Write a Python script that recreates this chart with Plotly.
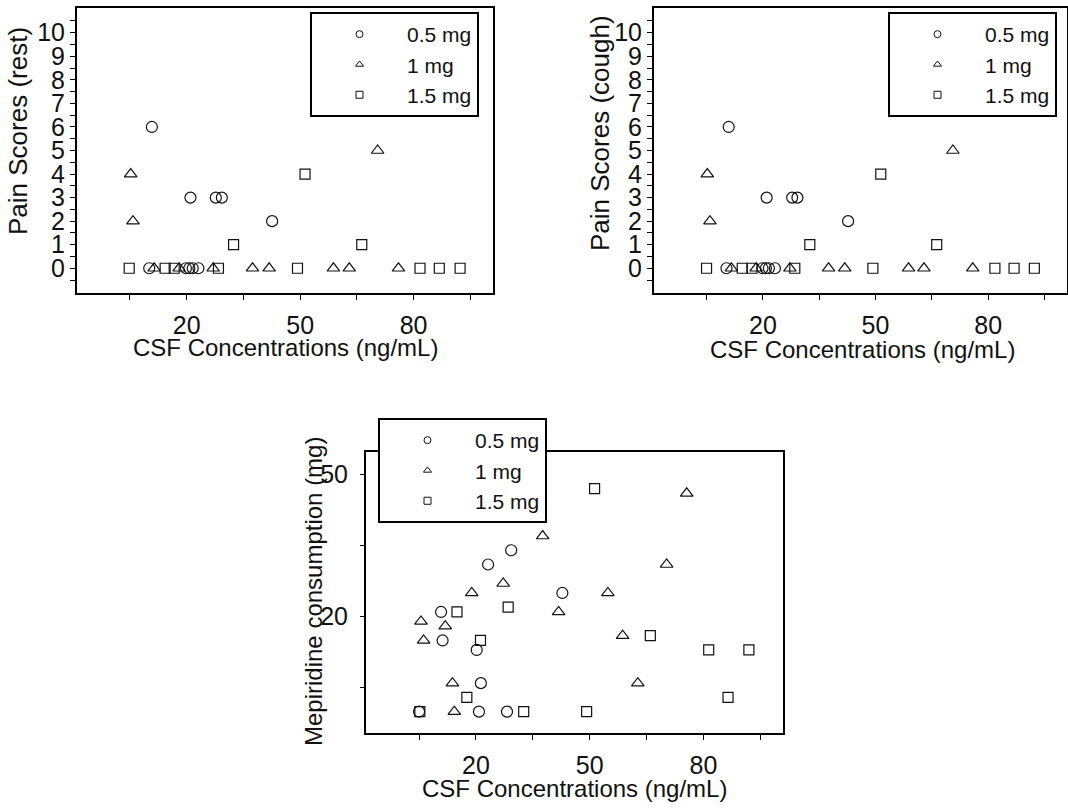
import plotly.graph_objects as go

W, H = 1068, 808
FONT = "Arial, Liberation Sans, sans-serif"
INK = "#111111"

doses = ["0.5 mg", "1 mg", "1.5 mg"]
symbols = ["circle-open", "triangle-up-open", "square-open"]
marker_sizes = [11, 11, 10]

# Pain scores at rest, by intrathecal dose (CSF concentration in ng/mL)
rest_csf_05 = [10.1, 19.8, 20.7, 21.6, 23.1, 10.8, 21.0, 27.7, 29.3, 42.6]
rest_pain_05 = [0, 0, 0, 0, 0, 6, 3, 3, 3, 2]
rest_csf_10 = [11.4, 18.0, 27.0, 37.4, 41.8, 58.8, 63.0, 76.0, 5.2, 5.8, 70.5]
rest_pain_10 = [0, 0, 0, 0, 0, 0, 0, 0, 4, 2, 5]
rest_csf_15 = [4.8, 14.3, 16.7, 28.4, 49.3, 81.7, 86.8, 92.3, 32.4, 66.3, 51.3]
rest_pain_15 = [0, 0, 0, 0, 0, 0, 0, 0, 1, 1, 4]

# Pain scores on coughing
cough_csf_05 = [10.3, 19.9, 20.8, 21.6, 23.2, 10.9, 21.0, 27.8, 29.2, 42.7]
cough_pain_05 = [0, 0, 0, 0, 0, 6, 3, 3, 3, 2]
cough_csf_10 = [11.6, 18.2, 27.2, 37.5, 41.8, 58.8, 62.9, 75.9, 5.2, 5.9, 70.6]
cough_pain_10 = [0, 0, 0, 0, 0, 0, 0, 0, 4, 2, 5]
cough_csf_15 = [5.0, 14.5, 17.1, 28.5, 49.3, 81.8, 86.9, 92.3, 32.5, 66.3, 51.4]
cough_pain_15 = [0, 0, 0, 0, 0, 0, 0, 0, 1, 1, 4]

# Postoperative mepiridine consumption (mg)
mep_csf_05 = [5.0, 10.8, 11.2, 20.2, 20.8, 21.3, 23.2, 28.2, 29.3, 42.8]
mep_mg_05 = [0, 21, 15, 13, 0, 6, 31, 0, 34, 25]
mep_csf_10 = [5.5, 6.2, 11.9, 13.8, 14.3, 18.9, 27.2, 37.6, 41.8, 54.8, 58.7, 62.7, 70.3, 75.6]
mep_mg_10 = [19, 15, 18, 6, 0, 25, 27, 37, 21, 25, 16, 6, 31, 46]
mep_csf_15 = [5.2, 15.0, 17.6, 21.2, 28.5, 32.6, 49.2, 51.3, 66.0, 81.4, 86.5, 92.0]
mep_mg_15 = [0, 21, 3, 15, 22, 0, 0, 47, 16, 13, 3, 13]

x_tickvals = [5, 20, 35, 50, 65, 80, 95]
x_ticktext = ["", "20", "", "50", "", "80", ""]
pain_tickvals = [v / 2 for v in range(-1, 22)]
pain_ticktext = [str(int(v)) if v == int(v) else "" for v in pain_tickvals]
mep_tickvals = [5, 20, 35, 50]
mep_ticktext = ["", "20", "", "50"]


def px_x(p):
    return p / W


def px_y(p):
    return 1 - p / H


panels = [
    dict(ax="", leg="legend",
         series=[(rest_csf_05, rest_pain_05), (rest_csf_10, rest_pain_10), (rest_csf_15, rest_pain_15)]),
    dict(ax="2", leg="legend2",
         series=[(cough_csf_05, cough_pain_05), (cough_csf_10, cough_pain_10), (cough_csf_15, cough_pain_15)]),
    dict(ax="3", leg="legend3",
         series=[(mep_csf_05, mep_mg_05), (mep_csf_10, mep_mg_10), (mep_csf_15, mep_mg_15)]),
]

fig = go.Figure()
for panel in panels:
    for (xs, ys), sym, ms in zip(panel["series"], symbols, marker_sizes):
        fig.add_trace(go.Scatter(
            x=xs, y=ys, mode="markers", showlegend=False,
            xaxis="x" + panel["ax"], yaxis="y" + panel["ax"],
            marker=dict(symbol=sym, size=ms, color=INK, line=dict(width=1.2, color=INK)),
            hoverinfo="x+y",
        ))
    # legend-only entries with the smaller key symbols
    for name, sym in zip(doses, symbols):
        fig.add_trace(go.Scatter(
            x=[None], y=[None], mode="markers", name=name, legend=panel["leg"],
            xaxis="x" + panel["ax"], yaxis="y" + panel["ax"],
            marker=dict(symbol=sym, size=7, color=INK, line=dict(width=1, color=INK)),
        ))

axis_common = dict(
    showline=True, linewidth=2, linecolor="black", mirror=True,
    ticks="outside", tickcolor="black", tickwidth=1,
    showgrid=False, zeroline=False, fixedrange=True,
    tickfont=dict(family=FONT, size=25, color=INK),
)

def xaxis(domain, anchor):
    return dict(axis_common, domain=domain, anchor=anchor, range=[-9, 101],
                tickmode="array", tickvals=x_tickvals, ticktext=x_ticktext,
                ticklen=5, ticklabelstandoff=4)

layout = dict(
    width=W, height=H, margin=dict(l=0, r=0, t=0, b=0),
    paper_bgcolor="white", plot_bgcolor="white",
    font=dict(family=FONT, color=INK),
    xaxis=xaxis([px_x(77), px_x(493)], "y"),
    yaxis=dict(axis_common, domain=[px_y(293), px_y(8)], anchor="x", range=[-1.05, 11.05],
               tickmode="array", tickvals=pain_tickvals, ticktext=pain_ticktext, ticklen=5),
    xaxis2=xaxis([px_x(654), px_x(1067)], "y2"),
    yaxis2=dict(axis_common, domain=[px_y(293), px_y(8)], anchor="x2", range=[-1.05, 11.05],
                tickmode="array", tickvals=pain_tickvals, ticktext=pain_ticktext, ticklen=5),
    xaxis3=xaxis([px_x(366), px_x(783)], "y3"),
    yaxis3=dict(axis_common, domain=[px_y(733), px_y(452)], anchor="x3", range=[-4.5, 54.7],
                tickmode="array", tickvals=mep_tickvals, ticktext=mep_ticktext, ticklen=4,
                ticklabelstandoff=7),
)

legend_style = dict(
    bgcolor="white", bordercolor="black", borderwidth=2,
    font=dict(family=FONT, size=21, color=INK),
    itemwidth=85, entrywidth=86, entrywidthmode="pixels",
    xanchor="left", yanchor="top", itemclick=False, itemdoubleclick=False,
)
layout["legend"] = dict(legend_style, x=px_x(310), y=px_y(12))
layout["legend2"] = dict(legend_style, x=px_x(888), y=px_y(12))
layout["legend3"] = dict(legend_style, x=px_x(378), y=px_y(418))

fig.update_layout(**layout)

titles = [
    ("CSF Concentrations (ng/mL)", 285, 348, 0, 24),
    ("CSF Concentrations (ng/mL)", 862, 349, 0, 24),
    ("CSF Concentrations (ng/mL)", 574, 788, 0, 24),
    ("Pain Scores (rest)", 18, 131, -90, 26),
    ("Pain Scores (cough)", 600, 133, -90, 26),
    ("Mepiridine consumption (mg)", 313, 592, -90, 24),
]
for text, cx, cy, ang, size in titles:
    fig.add_annotation(text=text, x=px_x(cx), y=px_y(cy), xref="paper", yref="paper",
                       xanchor="center", yanchor="middle", showarrow=False,
                       textangle=ang, font=dict(family=FONT, size=size, color=INK))

fig.write_html("out.html")
